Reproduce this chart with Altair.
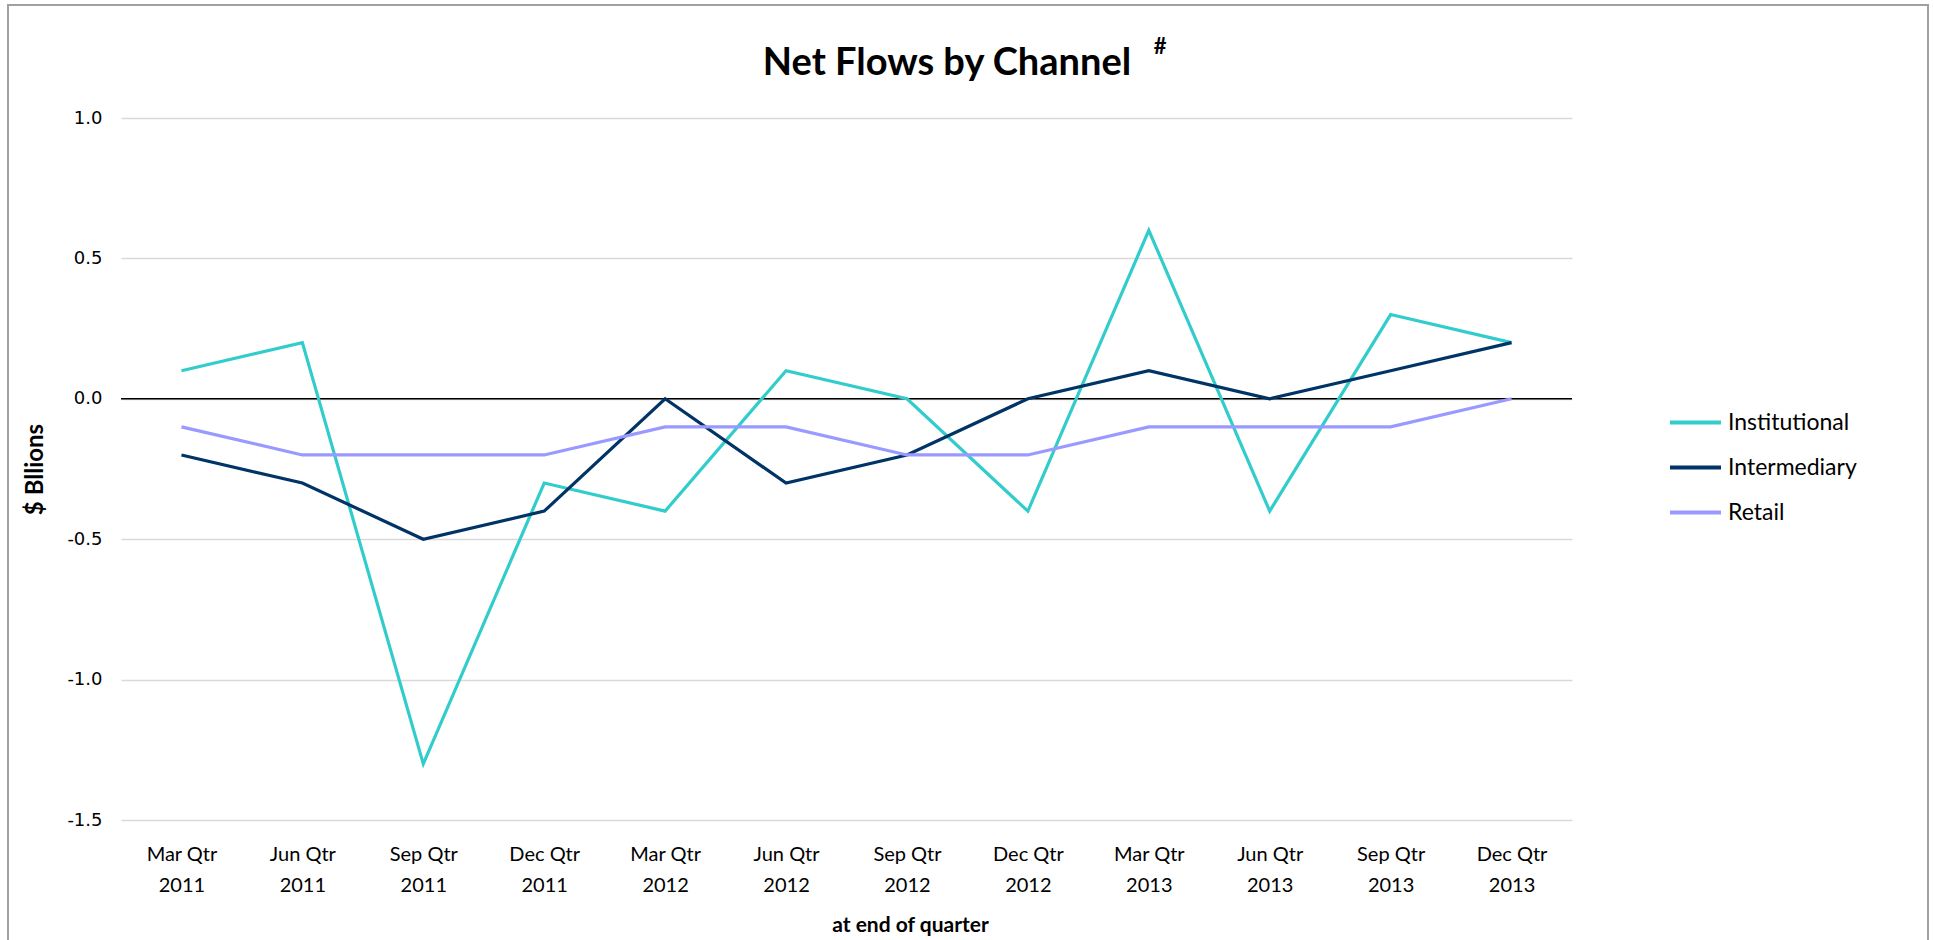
import altair as alt
import pandas as pd

quarters = ["Mar Qtr 2011", "Jun Qtr 2011", "Sep Qtr 2011", "Dec Qtr 2011",
            "Mar Qtr 2012", "Jun Qtr 2012", "Sep Qtr 2012", "Dec Qtr 2012",
            "Mar Qtr 2013", "Jun Qtr 2013", "Sep Qtr 2013", "Dec Qtr 2013"]
institutional = [0.1, 0.2, -1.3, -0.3, -0.4, 0.1, 0.0, -0.4, 0.6, -0.4, 0.3, 0.2]
intermediary = [-0.2, -0.3, -0.5, -0.4, 0.0, -0.3, -0.2, 0.0, 0.1, 0.0, 0.1, 0.2]
retail = [-0.1, -0.2, -0.2, -0.2, -0.1, -0.1, -0.2, -0.2, -0.1, -0.1, -0.1, 0.0]
series_names = ["Institutional", "Intermediary", "Retail"]
series_colors = ["#33CCCC", "#003366", "#9999FF"]
y_ticks = [-1.5, -1.0, -0.5, 0.0, 0.5, 1.0]

rows = []
for name, vals in zip(series_names, [institutional, intermediary, retail]):
    for q, v in zip(quarters, vals):
        rows.append({"Quarter": q, "Series": name, "Value": v})
df = pd.DataFrame(rows)

W, H = 1451, 702

x_enc = alt.X("Quarter:N", sort=quarters,
              scale=alt.Scale(paddingInner=0, paddingOuter=0),
              axis=alt.Axis(title="at end of quarter", labelAngle=0,
                            labelExpr="[slice(datum.value,0,7), slice(datum.value,8)]",
                            labelFont="Lato", labelFontSize=20, labelFontWeight="normal",
                            labelColor="#000000",
                            labelLineHeight=31, labelBaseline="top", labelPadding=24,
                            ticks=False, domain=False, grid=False,
                            titleFont="Lato", titleFontSize=21, titleFontWeight="bold",
                            titleColor="#000000", titleX=789, titleY=105,
                            titleBaseline="middle", titleAlign="center"))
y_enc = alt.Y("Value:Q",
              scale=alt.Scale(domain=[-1.5, 1.0], nice=False, zero=False),
              axis=alt.Axis(title="$ Bllions", values=y_ticks,
                            labelExpr="(datum.value < 0 ? '-' : '') + format(abs(datum.value), '.1f')",
                            labelFont="DejaVu Sans", labelFontSize=18, labelColor="#000000",
                            labelPadding=19, ticks=False, domain=False,
                            grid=True, gridColor="#D9D9D9", gridWidth=1.3,
                            titleFont="Lato", titleFontSize=24, titleFontWeight="bold",
                            titleColor="#000000", titleAngle=270, titleX=-86, titleY=351,
                            titleBaseline="middle", titleAlign="center"))

lines = alt.Chart(df).mark_line(strokeWidth=3.2).encode(
    x=x_enc,
    y=y_enc,
    color=alt.Color("Series:N", sort=series_names,
                    scale=alt.Scale(domain=series_names, range=series_colors),
                    legend=alt.Legend(title=None, orient="none", legendX=1547, legendY=277,
                                      symbolType="stroke", symbolStrokeWidth=4,
                                      symbolSize=2601, labelFont="Lato", labelFontSize=23,
                                      labelColor="#000000", labelOffset=5, rowPadding=5,
                                      padding=0)),
    detail="Series:N",
)

zero = alt.Chart(pd.DataFrame({"z": [0.0]})).mark_rule(color="#000000", strokeWidth=1.5).encode(
    y=alt.Y("z:Q", scale=alt.Scale(domain=[-1.5, 1.0], nice=False, zero=False))
)

title_df = pd.DataFrame({"t": ["Net Flows by Channel"], "s": ["#"]})
title = alt.Chart(title_df).mark_text(font="Lato", fontSize=38, fontWeight="bold",
                                      color="#000000", align="center",
                                      baseline="alphabetic").encode(
    text="t:N", x=alt.value(826), y=alt.value(-43))
sup = alt.Chart(title_df).mark_text(font="Lato", fontSize=22, fontWeight="bold",
                                    color="#000000", align="center",
                                    baseline="alphabetic").encode(
    text="s:N", x=alt.value(1039), y=alt.value(-64))

border = alt.Chart(title_df).mark_rect(fill=None, stroke="#A0A0A0", strokeWidth=2).encode(
    x=alt.value(-113), x2=alt.value(1807), y=alt.value(-113), y2=alt.value(840))

chart = alt.layer(zero, lines, title, sup, border).resolve_scale(y="shared").properties(
    width=W, height=H,
    background="white",
    autosize=alt.AutoSizeParams(type="none"),
    padding={"left": 121, "top": 118, "right": 362, "bottom": 120},
).configure_view(stroke=None)

chart.save("out.html", embed_options={"renderer": "svg", "actions": False})
